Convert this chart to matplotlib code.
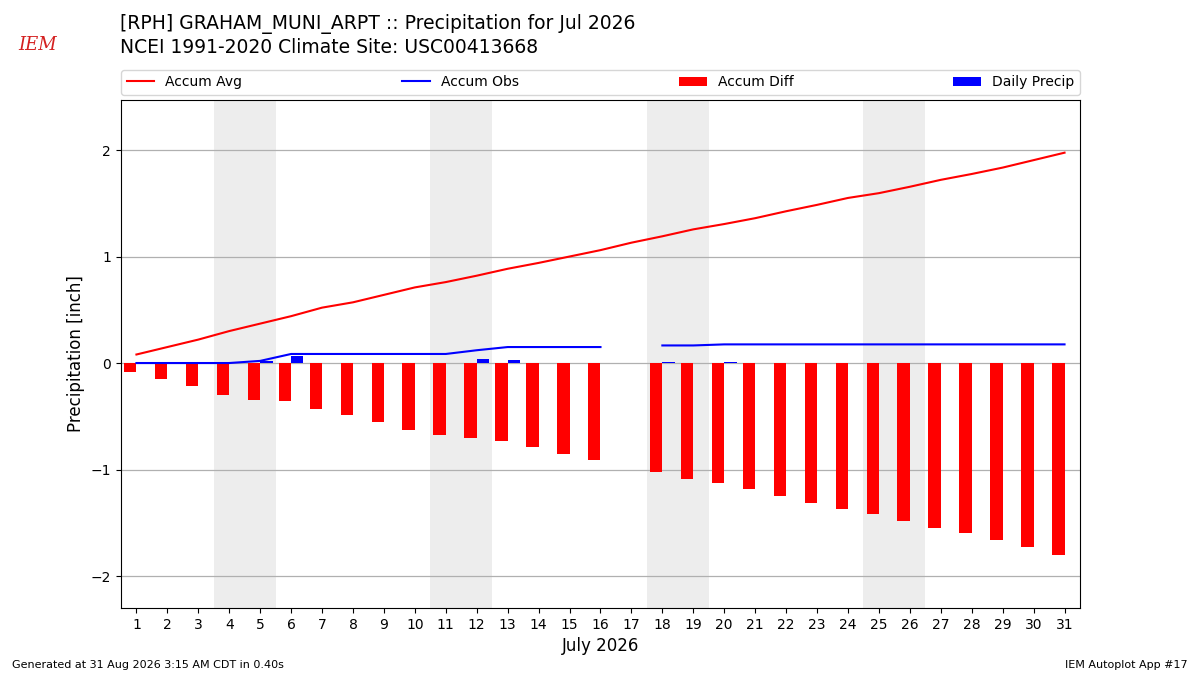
import numpy as np
import matplotlib
matplotlib.use("Agg")
import matplotlib.pyplot as plt
from matplotlib.patches import Patch
from matplotlib.lines import Line2D

days = list(range(1, 32))
accum_avg = [0.08, 0.15, 0.22, 0.30, 0.37, 0.44, 0.52, 0.57, 0.64, 0.71,
             0.76, 0.82, 0.885, 0.94, 1.00, 1.06, 1.13, 1.19, 1.255, 1.305,
             1.36, 1.425, 1.485, 1.55, 1.595, 1.655, 1.72, 1.775, 1.835, 1.905, 1.975]
accum_obs = [0.0, 0.0, 0.0, 0.0, 0.02, 0.085, 0.085, 0.085, 0.085, 0.085,
             0.085, 0.12, 0.15, 0.15, 0.15, 0.15, np.nan, 0.165, 0.165, 0.175,
             0.175, 0.175, 0.175, 0.175, 0.175, 0.175, 0.175, 0.175, 0.175, 0.175, 0.175]
daily_precip = [0, 0, 0, 0, 0.018, 0.065, 0, 0, 0, 0,
                0, 0.037, 0.028, 0, 0, 0, np.nan, 0.008, 0, 0.008,
                0, 0, 0, 0, 0, 0, 0, 0, 0, 0, 0]
weekends = [(4, 5), (11, 12), (18, 19), (25, 26)]

days_a = np.array(days, dtype=float)
avg_a = np.array(accum_avg)
obs_a = np.array(accum_obs)
diff_a = obs_a - avg_a

fig = plt.figure(figsize=(12, 6.75), dpi=100)
ax = fig.add_axes([0.1008, 0.0993, 0.7992, 0.7526])

for a, b in weekends:
    ax.axvspan(a - 0.5, b + 0.5, color="#ededed", zorder=0, lw=0)

ax.grid(True, axis="y", color="#b0b0b0", lw=0.9, zorder=1)
ax.set_axisbelow(True)

ax.bar(days_a, diff_a, width=-0.4, align="edge", color="red", zorder=2)
ax.bar(days_a, daily_precip, width=0.4, align="edge", color="blue", zorder=2)
ax.plot(days_a, avg_a, color="red", lw=1.5, zorder=3)
ax.plot(days_a, obs_a, color="blue", lw=1.5, zorder=3)

ax.set_xlim(0.5, 31.5)
ax.set_ylim(-2.3, 2.47)
ax.set_xticks(days)
ax.set_xticklabels([str(d) for d in days], fontsize=10)
ax.set_yticks([-2, -1, 0, 1, 2])
ax.tick_params(axis="y", labelsize=10)
ax.set_ylabel("Precipitation [inch]", fontsize=12)
ax.set_xlabel("July 2026", fontsize=12)

handles = [Line2D([0], [0], color="red", lw=1.5),
           Line2D([0], [0], color="blue", lw=1.5),
           Patch(facecolor="red"),
           Patch(facecolor="blue")]
labels = ["Accum Avg", "Accum Obs", "Accum Diff", "Daily Precip"]
ax.legend(handles, labels, loc="lower left", bbox_to_anchor=(0, 1.01, 1, 0.05),
          mode="expand", ncol=4, fontsize=10, borderaxespad=0, frameon=True)

fig.text(0.1, 0.964, "[RPH] GRAHAM_MUNI_ARPT :: Precipitation for Jul 2026",
         fontsize=13.5, va="center", ha="left")
fig.text(0.1, 0.929, "NCEI 1991-2020 Climate Site: USC00413668",
         fontsize=13.5, va="center", ha="left")
fig.text(0.031, 0.933, "IEM", fontsize=13, color="#d42020", family="DejaVu Serif",
         style="italic", va="center", ha="center")
fig.text(0.01, 0.007, "Generated at 31 Aug 2026 3:15 AM CDT in 0.40s", fontsize=8,
         ha="left", va="bottom")
fig.text(0.99, 0.007, "IEM Autoplot App #17", fontsize=8, ha="right", va="bottom")

fig.savefig("out.png", dpi=100)
